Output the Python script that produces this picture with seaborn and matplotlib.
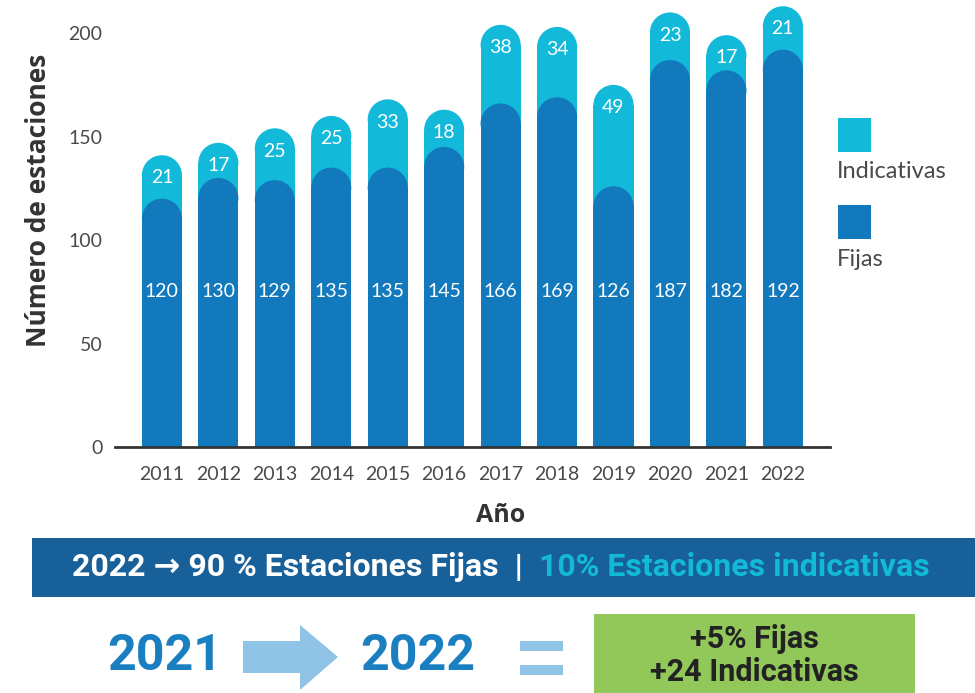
import numpy as np
import pandas as pd
import matplotlib
matplotlib.use("Agg")
import matplotlib.pyplot as plt
import seaborn as sns
from matplotlib.patches import Ellipse, Rectangle, Polygon

# data
years = ["2011", "2012", "2013", "2014", "2015", "2016",
         "2017", "2018", "2019", "2020", "2021", "2022"]
fijas = [120, 130, 129, 135, 135, 145, 166, 169, 126, 187, 182, 192]
indicativas = [21, 17, 25, 25, 33, 18, 38, 34, 49, 23, 17, 21]
y_ticks = [0, 50, 100, 150, 200]

legend_labels = ["Indicativas", "Fijas"]
banner_white = "2022 \u2192 90 % Estaciones Fijas  |  "
banner_cyan = "10% Estaciones indicativas"
compare_from = "2021"
compare_to = "2022"
summary_lines = ["+5% Fijas", "+24 Indicativas"]

c_ind = "#12b9d9"
c_fij = "#1279bd"
c_text = "#4a4a4a"

df = pd.DataFrame({"Año": years, "Fijas": fijas, "Indicativas": indicativas})
df["Total"] = df["Fijas"] + df["Indicativas"]

sns.set_theme(style="white")
plt.rcParams["font.family"] = ["Lato", "DejaVu Sans"]
wide_bold = ["Open Sans", "Lato", "DejaVu Sans"]
narrow = ["Roboto", "DejaVu Sans"]

fig = plt.figure(figsize=(9.75, 6.93), dpi=100)
ax = fig.add_axes([0.118, 0.355, 0.733, 0.642])

# full stack first (cyan), fixed part on top (blue)
sns.barplot(data=df, x="Año", y="Total", color=c_ind, saturation=1,
            width=0.71, errorbar=None, ax=ax)
sns.barplot(data=df, x="Año", y="Fijas", color=c_fij, saturation=1,
            width=0.71, errorbar=None, ax=ax)
ax.set_xlim(-0.83, 11.83)
ax.set_ylim(0, 215)

# rounded bar tops
sx, sy = ax.transData.transform((1, 1)) - ax.transData.transform((0, 0))
for k, cont in enumerate(ax.containers):
    for p in cont:
        x, w, h = p.get_x(), p.get_width(), p.get_height()
        ry = w / 2 * sx / sy
        p.set_height(h - ry)
        p.set_linewidth(0)
        p.set_zorder(1 + k)
        ax.add_patch(Ellipse((x + w / 2, h - ry), w, 2 * ry,
                             facecolor=p.get_facecolor(), lw=0, zorder=1 + k))

# value labels
for i, (f, ind, tot) in enumerate(zip(fijas, indicativas, df["Total"])):
    ax.text(i, 75, str(f), ha="center", va="center", color="white",
            fontsize=14, zorder=5)
    ax.text(i, tot - 11, str(ind), ha="center", va="center", color="white",
            fontsize=14, zorder=5)

for s in ["top", "right", "left"]:
    ax.spines[s].set_visible(False)
ax.spines["bottom"].set_color("#333333")
ax.spines["bottom"].set_linewidth(2)
ax.set_yticks(y_ticks)
ax.tick_params(axis="both", length=0, labelsize=14, colors=c_text)
ax.tick_params(axis="y", pad=9)
ax.tick_params(axis="x", pad=14)
ax.set_ylabel("Número de estaciones", fontsize=19, fontweight="bold",
              color="#333333", family=wide_bold)
ax.set_xlabel("Año", fontsize=18, fontweight="bold", color="#333333",
              family=wide_bold)
ax.yaxis.set_label_coords(-0.088, 0.555)
ax.xaxis.set_label_coords(0.54, -0.125)

# overlay in pixel coordinates for legend and the info boxes
ov = fig.add_axes([0, 0, 1, 1])
ov.set_xlim(0, 975)
ov.set_ylim(693, 0)
ov.set_axis_off()

# legend
for lab, col, y0 in zip(legend_labels, [c_ind, c_fij], [118, 205]):
    ov.add_patch(Rectangle((838, y0), 33, 34, facecolor=col, lw=0))
    ov.text(837, y0 + 54, lab, ha="left", va="center", fontsize=17,
            color=c_text)

# banner
ov.add_patch(Rectangle((32, 538), 943, 59, facecolor="#17609a", lw=0))
t1 = ov.text(72, 567, banner_white, ha="left", va="center", fontsize=23,
             fontweight="bold", color="white", family=narrow)
ov.annotate(banner_cyan, xy=(1, 0.5), xycoords=t1, ha="left", va="center",
            fontsize=23, fontweight="bold", color=c_ind, family=narrow)

# 2021 -> 2022 = summary
blue_big = "#1a7fc1"
light_blue = "#90c4e6"
ov.text(165, 657, compare_from, ha="center", va="center", fontsize=36,
        fontweight="bold", color=blue_big, family=narrow)
ov.add_patch(Polygon([(243, 641), (300, 641), (300, 625), (338, 657),
                      (300, 690), (300, 673), (243, 673)],
                     closed=True, facecolor=light_blue, lw=0))
ov.text(418, 657, compare_to, ha="center", va="center", fontsize=36,
        fontweight="bold", color=blue_big, family=narrow)
ov.add_patch(Rectangle((520, 641), 43, 10, facecolor=light_blue, lw=0))
ov.add_patch(Rectangle((520, 665), 43, 10, facecolor=light_blue, lw=0))
ov.add_patch(Rectangle((594, 614), 321, 79, facecolor="#92c85a", lw=0))
ov.text(754, 639, summary_lines[0], ha="center", va="center", fontsize=22,
        fontweight="bold", color="#222222", family=narrow)
ov.text(754, 672, summary_lines[1], ha="center", va="center", fontsize=22,
        fontweight="bold", color="#222222", family=narrow)

fig.savefig("out.png", dpi=100)
